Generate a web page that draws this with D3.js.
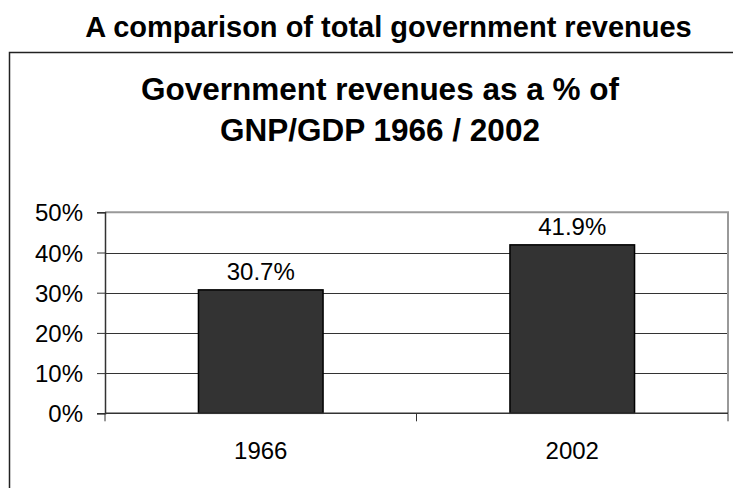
<!DOCTYPE html>
<html>
<head>
<meta charset="utf-8">
<script src="https://cdn.jsdelivr.net/npm/d3@7"></script>
<style>
  html, body { margin: 0; padding: 0; background: #fff; }
  svg { display: block; font-family: "Liberation Sans", Arial, sans-serif; }
</style>
</head>
<body>
<svg id="chart" width="733" height="488"></svg>
<script>
// Government revenues as a share of GNP/GDP
const years = ["1966", "2002"];
const revenueShare = [0.307, 0.419];
const yTicks = [0, 0.1, 0.2, 0.3, 0.4, 0.5];
const pageTitle = "A comparison of total government revenues";
const chartTitleLines = ["Government revenues as a % of", "GNP/GDP 1966 / 2002"];

const svg = d3.select("#chart");

const plot = { left: 105, right: 728, top: 212.3, bottom: 413.3 };

const x = d3.scaleBand().domain(years).range([plot.left, plot.right]).padding(0);
const y = d3.scaleLinear().domain([0, 0.5]).range([plot.bottom, plot.top]);
const pct = d3.format(".0%");
const pct1 = d3.format(".1%");

// page heading
svg.append("text")
  .attr("x", 388.5).attr("y", 37)
  .attr("text-anchor", "middle")
  .attr("font-size", 29).attr("font-weight", "bold")
  .attr("fill", "#000")
  .text(pageTitle);

// chart frame
svg.append("rect")
  .attr("x", 9.5).attr("y", 52.5)
  .attr("width", 740).attr("height", 460)
  .attr("fill", "none").attr("stroke", "#222").attr("stroke-width", 1.5);

// chart title
svg.append("g").selectAll("text")
  .data(chartTitleLines)
  .join("text")
  .attr("x", 380).attr("y", (d, i) => 100 + i * 41)
  .attr("text-anchor", "middle")
  .attr("font-size", 31.5).attr("font-weight", "bold")
  .attr("fill", "#000")
  .text(d => d);

// gridlines
svg.append("g")
  .selectAll("line")
  .data(yTicks.filter(t => t > 0 && t < 0.5))
  .join("line")
  .attr("x1", plot.left).attr("x2", plot.right)
  .attr("y1", d => Math.round(y(d)) + 0.5).attr("y2", d => Math.round(y(d)) + 0.5)
  .attr("stroke", "#333").attr("stroke-width", 1);

// plot area border (top and right)
svg.append("path")
  .attr("d", `M${plot.left},${plot.top} H${plot.right} V${plot.bottom}`)
  .attr("fill", "none").attr("stroke", "#999").attr("stroke-width", 2);

// bars
const barW = x.bandwidth() * 0.4;
svg.append("g").selectAll("rect")
  .data(years.map((c, i) => ({ c, v: revenueShare[i] })))
  .join("rect")
  .attr("x", d => x(d.c) + (x.bandwidth() - barW) / 2)
  .attr("y", d => y(d.v))
  .attr("width", barW)
  .attr("height", d => y(0) - y(d.v))
  .attr("fill", "#333333")
  .attr("stroke", "#000").attr("stroke-width", 1.5);

// value labels
svg.append("g").selectAll("text")
  .data(years.map((c, i) => ({ c, v: revenueShare[i] })))
  .join("text")
  .attr("x", d => x(d.c) + x.bandwidth() / 2)
  .attr("y", d => y(d.v) - 10)
  .attr("text-anchor", "middle")
  .attr("font-size", 24).attr("fill", "#000")
  .text(d => pct1(d.v));

// y axis
const yAxis = svg.append("g")
  .attr("transform", `translate(${plot.left},0)`)
  .call(d3.axisLeft(y).tickValues(yTicks).tickFormat(pct).tickSize(8).tickPadding(14));
yAxis.select(".domain").attr("stroke", "#333").attr("stroke-width", 1.5);
yAxis.selectAll(".tick line").attr("stroke", "#333").attr("stroke-width", 1);
yAxis.selectAll(".tick text")
  .attr("font-size", 24).attr("fill", "#000")
  .attr("font-family", "'Liberation Sans', Arial, sans-serif")
  .attr("dy", "0.36em");

// x axis baseline and category boundary ticks
const xAxis = svg.append("g");
xAxis.append("line")
  .attr("x1", plot.left).attr("x2", plot.right)
  .attr("y1", y(0)).attr("y2", y(0))
  .attr("stroke", "#333").attr("stroke-width", 1.5);
const bounds = years.map(c => x(c)).concat([x.range()[1]]);
xAxis.selectAll("line.tick")
  .data(bounds)
  .join("line")
  .attr("class", "tick")
  .attr("x1", d => d).attr("x2", d => d)
  .attr("y1", y(0)).attr("y2", y(0) + 8)
  .attr("stroke", "#333").attr("stroke-width", 1);
xAxis.selectAll("text")
  .data(years)
  .join("text")
  .attr("x", d => x(d) + x.bandwidth() / 2)
  .attr("y", 459)
  .attr("text-anchor", "middle")
  .attr("font-size", 24).attr("fill", "#000")
  .text(d => d);
</script>
</body>
</html>
